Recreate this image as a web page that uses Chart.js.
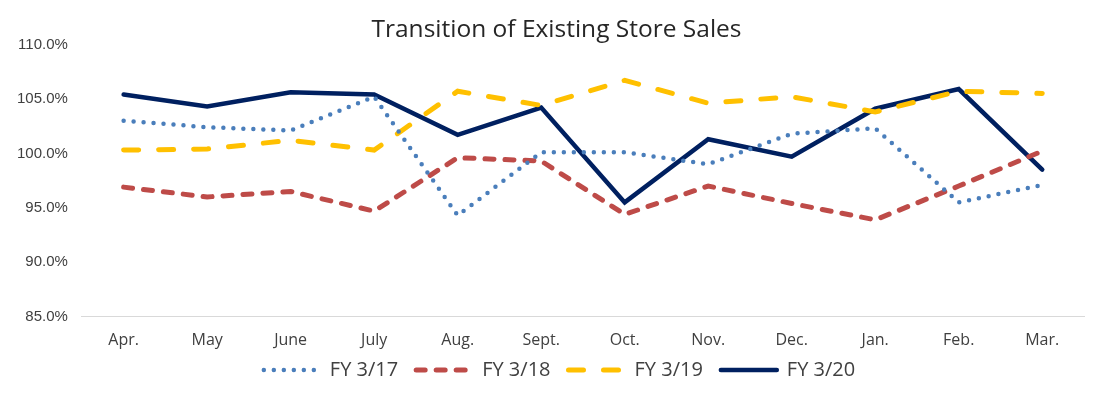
<!DOCTYPE html>
<html>
<head>
<meta charset="utf-8">
<script src="https://cdn.jsdelivr.net/npm/chart.js@4/dist/chart.umd.min.js"></script>
<style>
    body { margin: 0; background: #fff; }
    #wrap { width: 1107px; height: 397px; }
</style>
</head>
<body>
<div id="wrap"><canvas id="salesChart" width="1107" height="397"></canvas></div>
<script>
// Months of the fiscal year
var months = ['Apr.', 'May', 'June', 'July', 'Aug.', 'Sept.', 'Oct.', 'Nov.', 'Dec.', 'Jan.', 'Feb.', 'Mar.'];

// Existing store sales vs. prior year (%)
var fy17 = [103.0, 102.4, 102.1, 105.2, 94.3, 100.1, 100.1, 99.0, 101.8, 102.3, 95.5, 97.1];
var fy18 = [96.9, 96.0, 96.5, 94.7, 99.6, 99.3, 94.4, 97.0, 95.4, 93.9, 97.0, 100.2];
var fy19 = [100.3, 100.4, 101.2, 100.3, 105.7, 104.4, 106.7, 104.6, 105.2, 103.8, 105.7, 105.5];
var fy20 = [105.4, 104.3, 105.6, 105.4, 101.7, 104.2, 95.5, 101.3, 99.7, 104.1, 105.9, 98.5];

var yTicks = [85, 90, 95, 100, 105, 110];

// legend keeps the dash of each line
function legendLabels(chart) {
    var items = Chart.defaults.plugins.legend.labels.generateLabels(chart);
    items.forEach(function (item) {
        var ds = chart.data.datasets[item.datasetIndex];
        item.lineDash = ds.borderDash || [];
        item.lineCap = ds.borderCapStyle;
        item.lineWidth = ds.borderWidth;
        item.strokeStyle = ds.borderColor;
        item.pointStyle = 'line';
    });
    return items;
}

// draw a box moved by dx/dy (its clip area moves too)
function nudge(box, dx, dy) {
    var draw = box.draw;
    box.draw = function () {
        var saved = { left: this.left, right: this.right, top: this.top, bottom: this.bottom };
        this.left += dx;
        this.right += dx;
        this.top += dy;
        this.bottom = this.top + 80;
        draw.apply(this, arguments);
        this.left = saved.left;
        this.right = saved.right;
        this.top = saved.top;
        this.bottom = saved.bottom;
    };
}

// legend sits closer to the axis, title and legend a bit to the right like the original
var boxTweak = {
    id: 'boxTweak',
    beforeInit: function (chart) {
        var legend = chart.legend;
        var fit = legend.fit;
        legend.fit = function () {
            fit.call(this);
            this.height -= 15;
        };
        nudge(legend, 16, -22);
        nudge(chart.titleBlock, 13, 0);
    }
};

var ctx = document.getElementById('salesChart').getContext('2d');
var salesChart = new Chart(ctx, {
    type: 'line',
    data: {
        labels: months,
        datasets: [
            {
                label: 'FY 3/17',
                data: fy17,
                borderColor: '#4a7ebb',
                borderWidth: 4.5,
                borderDash: [0, 10],
                borderCapStyle: 'round',
                pointRadius: 0,
                tension: 0
            },
            {
                label: 'FY 3/18',
                data: fy18,
                borderColor: '#be4b48',
                borderWidth: 5,
                borderDash: [9, 11],
                borderCapStyle: 'round',
                pointRadius: 0,
                tension: 0
            },
            {
                label: 'FY 3/19',
                data: fy19,
                borderColor: '#ffc000',
                borderWidth: 5,
                borderDash: [15, 20],
                borderCapStyle: 'round',
                pointRadius: 0,
                tension: 0
            },
            {
                label: 'FY 3/20',
                data: fy20,
                borderColor: '#002060',
                borderWidth: 4.5,
                borderCapStyle: 'round',
                borderJoinStyle: 'miter',
                pointRadius: 0,
                tension: 0
            }
        ]
    },
    options: {
        responsive: false,
        animation: false,
        layout: {
            padding: { left: 3, right: 23, top: 0, bottom: 0 }
        },
        plugins: {
            title: {
                display: true,
                text: 'Transition of Existing Store Sales',
                color: '#262626',
                font: { family: 'Open Sans', size: 24.5, weight: 'normal' },
                padding: { top: 15, bottom: 0 }
            },
            legend: {
                position: 'bottom',
                labels: {
                    usePointStyle: true,
                    pointStyleWidth: 56,
                    generateLabels: legendLabels,
                    color: '#404040',
                    font: { family: 'Open Sans', size: 20 },
                    padding: 18
                }
            },
            tooltip: { enabled: false }
        },
        scales: {
            x: {
                offset: true,
                grid: { display: false, drawTicks: false },
                border: { display: true, color: '#d9d9d9', width: 1 },
                ticks: {
                    color: '#404040',
                    font: { family: 'Open Sans', size: 16 },
                    padding: 14
                }
            },
            y: {
                min: 85,
                max: 110,
                grid: { display: false, drawTicks: false },
                border: { display: false },
                afterBuildTicks: function (axis) {
                    axis.ticks = yTicks.map(function (v) { return { value: v }; });
                },
                ticks: {
                    color: '#404040',
                    font: { family: 'Liberation Sans', size: 15 },
                    padding: 14,
                    callback: function (value) {
                        return value.toFixed(1) + '%';
                    }
                }
            }
        }
    },
    plugins: [boxTweak]
});
</script>
</body>
</html>
